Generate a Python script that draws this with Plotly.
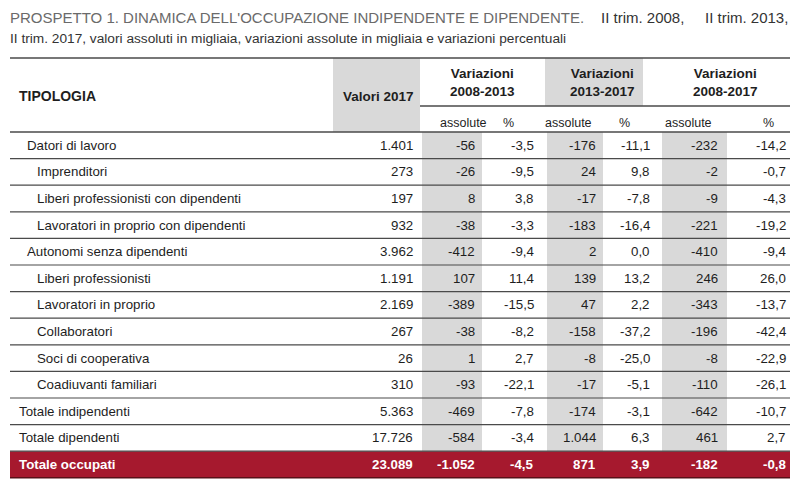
import plotly.graph_objects as go

# ---------------- data ----------------
title_caps = "PROSPETTO 1. DINAMICA DELL'OCCUPAZIONE INDIPENDENTE E DIPENDENTE."
title_rest1a = "II trim. 2008,"
title_rest1b = "II trim. 2013,"
title_line2 = "II trim. 2017, valori assoluti in migliaia, variazioni assolute in migliaia e variazioni percentuali"

row_labels = ["Datori di lavoro", "Imprenditori", "Liberi professionisti con dipendenti",
              "Lavoratori in proprio con dipendenti", "Autonomi senza dipendenti",
              "Liberi professionisti", "Lavoratori in proprio", "Collaboratori",
              "Soci di cooperativa", "Coadiuvanti familiari", "Totale indipendenti",
              "Totale dipendenti", "Totale occupati"]
row_levels = [1, 2, 2, 2, 1, 2, 2, 2, 2, 2, 0, 0, 0]

valori_2017 = [1401, 273, 197, 932, 3962, 1191, 2169, 267, 26, 310, 5363, 17726, 23089]
abs_0813 = [-56, -26, 8, -38, -412, 107, -389, -38, 1, -93, -469, -584, -1052]
pct_0813 = [-3.5, -9.5, 3.8, -3.3, -9.4, 11.4, -15.5, -8.2, 2.7, -22.1, -7.8, -3.4, -4.5]
abs_1317 = [-176, 24, -17, -183, 2, 139, 47, -158, -8, -17, -174, 1044, 871]
pct_1317 = [-11.1, 9.8, -7.8, -16.4, 0.0, 13.2, 2.2, -37.2, -25.0, -5.1, -3.1, 6.3, 3.9]
abs_0817 = [-232, -2, -9, -221, -410, 246, -343, -196, -8, -110, -642, 461, -182]
pct_0817 = [-14.2, -0.7, -4.3, -19.2, -9.4, 26.0, -13.7, -42.4, -22.9, -26.1, -10.7, 2.7, -0.8]

header_first = "TIPOLOGIA"
header_valori = "Valori 2017"
period_labels = ["Variazioni<br>2008-2013", "Variazioni<br>2013-2017", "Variazioni<br>2008-2017"]
sub_labels = ["assolute", "%"]

# ---------------- layout constants ----------------
W, H = 800, 489
X0, X1 = 10, 790
Y_TOP = 58
Y_MID = 106
Y_HDR = 132
ROW_H = 26.6
GREY = "#d9d9d9"
RED = "#a6192e"
LINE = "#4a4a4a"
TXT = "#1e1e1e"
FONT = "Liberation Sans, Arial, sans-serif"

# column geometry (left, right, text right edge)
col_val = (333, 420, 415)
period_cols = [
    [(420, 482, 477), (482, 545, 536)],
    [(545, 603, 598), (603, 660, 652)],
    [(660, 727, 720), (727, 790, 788)],
]
sub_x = [[463, 508], [568, 624], [688, 768]]
grey_period_header = [False, True, False]
indent = {0: 17, 1: 25, 2: 35}


def fmt_int(v):
    s = f"{abs(v):,}".replace(",", ".")
    return ("-" if v < 0 else "") + s


def fmt_pct(v):
    return f"{v:.1f}".replace(".", ",")


n = len(row_labels)
shapes = []
ann = []

def rect(x0, y0, x1, y1, color):
    shapes.append(dict(type="rect", xref="x", yref="y", x0=x0, x1=x1, y0=y0, y1=y1,
                       fillcolor=color, line=dict(width=0), layer="below"))

def hline(y, xa=X0, xb=X1, w=1.3, c=LINE):
    shapes.append(dict(type="line", xref="x", yref="y", x0=xa, x1=xb, y0=y, y1=y,
                       line=dict(color=c, width=w), layer="above"))

def text(x, y, s, anchor="left", size=13.3, color=TXT, bold=False, font=FONT):
    if bold:
        s = f"<b>{s}</b>"
    ann.append(dict(x=x, y=y, xref="x", yref="y", text=s, showarrow=False,
                    xanchor=anchor, yanchor="middle", align="center",
                    font=dict(family=font, size=size, color=color)))

# header grey cells
rect(col_val[0], Y_TOP, col_val[1], Y_HDR, GREY)
for p, cols in enumerate(period_cols):
    if grey_period_header[p]:
        rect(cols[0][0], Y_TOP, cols[1][0] + 40, Y_MID, GREY)

# data grey columns (assolute)
last_top = Y_HDR + ROW_H * (n - 1)
for cols in period_cols:
    rect(cols[0][0] + 2, Y_HDR, cols[0][1], last_top, GREY)

# total row red
rect(X0, last_top, X1, Y_HDR + ROW_H * n, RED)

# lines
hline(Y_TOP, w=1.6)
hline(Y_MID, xa=period_cols[0][0][0], w=1.3)
hline(Y_HDR, w=1.6)
for i in range(1, n):
    hline(Y_HDR + ROW_H * i, w=1.2)
hline(Y_HDR + ROW_H * n, w=1.4, c="#5a1018")

# title
text(8, 17, title_caps, size=15, color="#6a6a6a")
text(599, 17, title_rest1a, size=15, color="#333")
text(790, 17, title_rest1b, anchor="right", size=15, color="#333")
text(8, 38, title_line2, size=13.7, color="#333")

# headers
text(indent[0], 96, header_first, size=14, bold=True)
text((col_val[0] + col_val[1]) / 2 + 2, 96, header_valori, anchor="center", size=13.5, bold=True)
for p, cols in enumerate(period_cols):
    cx = (cols[0][0] + cols[1][1]) / 2
    text(cx, 82, period_labels[p], anchor="center", size=13.5, bold=True)
    for k in range(2):
        text(sub_x[p][k], 123, sub_labels[k], anchor="center", size=12.5)

# rows
for i in range(n):
    yc = Y_HDR + ROW_H * i + ROW_H / 2
    last = i == n - 1
    col = "white" if last else TXT
    text(indent[row_levels[i]], yc, row_labels[i], color=col, bold=last)
    vals = [fmt_int(valori_2017[i]),
            fmt_int(abs_0813[i]), fmt_pct(pct_0813[i]),
            fmt_int(abs_1317[i]), fmt_pct(pct_1317[i]),
            fmt_int(abs_0817[i]), fmt_pct(pct_0817[i])]
    xs = [col_val[2]] + [c[2] for cols in period_cols for c in cols]
    for v, x in zip(vals, xs):
        text(x, yc, v, anchor="right", color=col, bold=last)

fig = go.Figure()
fig.update_layout(
    width=W, height=H, margin=dict(l=0, r=0, t=0, b=0),
    paper_bgcolor="white", plot_bgcolor="white",
    xaxis=dict(range=[0, W], visible=False, fixedrange=True),
    yaxis=dict(range=[H, 0], visible=False, fixedrange=True),
    shapes=shapes, annotations=ann, showlegend=False,
)
fig.write_html("out.html", config={"displayModeBar": False, "staticPlot": True},
               post_script="document.body.style.margin='0';")
